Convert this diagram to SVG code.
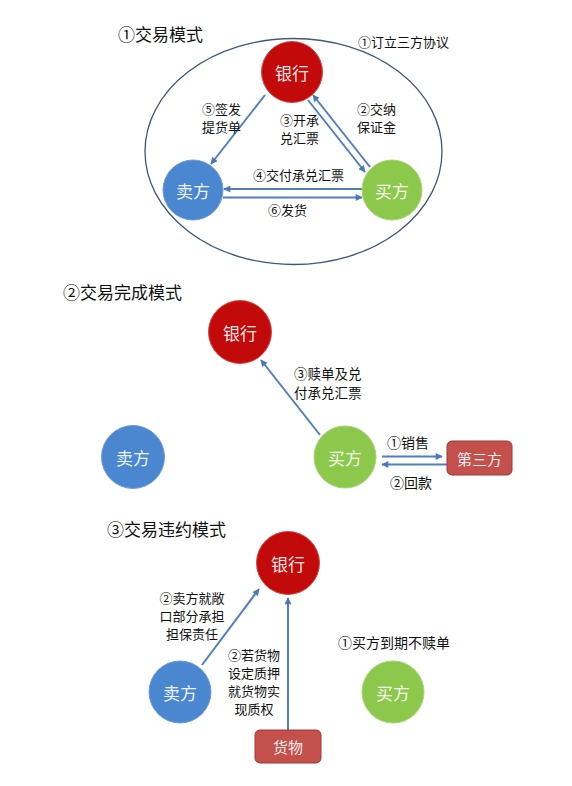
<svg xmlns="http://www.w3.org/2000/svg" width="572" height="786" viewBox="0 0 572 786">
<defs>
<marker id="ah" viewBox="0 0 10 10" refX="9" refY="5" markerWidth="8" markerHeight="7" markerUnits="userSpaceOnUse" orient="auto">
<path d="M0,0 L10,5 L0,10 z" fill="#4a78b8"/>
</marker>
</defs>
<style>
text{font-family:"Noto Sans CJK SC","Noto Sans",sans-serif;fill:#111}
.title{font-size:17px}
.lbl{font-size:13px}
.lbl14{font-size:14px}
.lbl2{font-size:13.5px}
.node{font-size:17px;fill:#fff;fill-opacity:0.92;text-anchor:middle;dominant-baseline:central}
.bank{fill:#c20a0a;stroke:#d94545;stroke-width:1}
.seller{fill:#4b86d1;stroke:#6c9ddc;stroke-width:1}
.buyer{fill:#8cc84b;stroke:#a6d672;stroke-width:1}
.box{fill:#c4504c;stroke:#9a3b38;stroke-width:1}
.arr{stroke:#4f7fbf;stroke-width:2;fill:none;marker-end:url(#ah)}
</style>
<rect width="572" height="786" fill="#fff"/>

<!-- Section 1 -->
<text class="title" x="118" y="41">①交易模式</text>
<ellipse cx="293.5" cy="151.5" rx="148.5" ry="113" fill="none" stroke="#3e5876" stroke-width="1.3"/>
<text class="lbl" x="358" y="47">①订立三方协议</text>

<g id="s1-connectors">
<line class="arr" x1="265" y1="95" x2="211" y2="164"/>
<line class="arr" x1="370" y1="167" x2="313" y2="95"/>
<line class="arr" x1="308" y1="100" x2="365" y2="172"/>
<line class="arr" x1="362" y1="189" x2="224" y2="189"/>
<line class="arr" x1="223" y1="197.5" x2="362" y2="197.5"/>
</g>
<text class="lbl" x="202" y="114">⑤签发<tspan x="202" dy="18">提货单</tspan></text>
<text class="lbl" x="280" y="125">③开承<tspan x="280" dy="18">兑汇票</tspan></text>
<text class="lbl" x="357" y="114">②交纳<tspan x="357" dy="18">保证金</tspan></text>
<text class="lbl" x="253" y="180">④交付承兑汇票</text>
<text class="lbl" x="268" y="215">⑥发货</text>

<g id="s1-bank"><circle class="bank" cx="292" cy="72" r="30.5"/><text class="node" x="292" y="72">银行</text></g>
<g id="s1-seller"><circle class="seller" cx="193" cy="190" r="30"/><text class="node" x="193" y="190">卖方</text></g>
<g id="s1-buyer"><circle class="buyer" cx="392" cy="190" r="30"/><text class="node" x="392" y="190">买方</text></g>

<!-- Section 2 -->
<text class="title" x="63" y="299">②交易完成模式</text>
<g id="s2-connectors">
<line class="arr" x1="320" y1="435" x2="261" y2="360"/>
<line class="arr" x1="382" y1="456.5" x2="442" y2="456.5"/>
<line class="arr" x1="447" y1="464.5" x2="382" y2="464.5"/>
</g>
<text class="lbl2" x="294" y="379">③赎单及兑<tspan x="294" dy="19">付承兑汇票</tspan></text>
<text class="lbl14" x="387" y="448">①销售</text>
<text class="lbl14" x="390" y="488">②回款</text>

<g id="s2-bank"><circle class="bank" cx="240" cy="332" r="31.5"/><text class="node" x="240" y="332">银行</text></g>
<g id="s2-seller"><circle class="seller" cx="133" cy="457" r="31.5"/><text class="node" x="133" y="457">卖方</text></g>
<g id="s2-buyer"><circle class="buyer" cx="345" cy="457" r="31"/><text class="node" x="345" y="457">买方</text></g>
<g id="s2-third"><rect class="box" x="447" y="441" width="65" height="34" rx="5"/><text class="node" style="font-size:15px" x="479.5" y="458">第三方</text></g>

<!-- Section 3 -->
<text class="title" x="107" y="536">③交易违约模式</text>
<g id="s3-connectors">
<line class="arr" x1="202" y1="665" x2="259" y2="589"/>
<line class="arr" x1="288" y1="730" x2="288" y2="598"/>
</g>
<text class="lbl" x="159.5" y="603">②卖方就敞<tspan x="159.5" dy="18">口部分承担</tspan><tspan x="166" dy="18">担保责任</tspan></text>
<text class="lbl" x="228" y="659.5">②若货物<tspan x="228" dy="18">设定质押</tspan><tspan x="228" dy="18">就货物实</tspan><tspan x="234.5" dy="18">现质权</tspan></text>
<text class="lbl14" x="338" y="648">①买方到期不赎单</text>

<g id="s3-bank"><circle class="bank" cx="288" cy="563" r="31.5"/><text class="node" x="288" y="563">银行</text></g>
<g id="s3-seller"><circle class="seller" cx="180" cy="692" r="31"/><text class="node" x="180" y="692">卖方</text></g>
<g id="s3-buyer"><circle class="buyer" cx="393" cy="692" r="31"/><text class="node" x="393" y="692">买方</text></g>
<g id="s3-goods"><rect class="box" x="255" y="730" width="66" height="33" rx="5"/><text class="node" style="font-size:15px" x="288" y="746.5">货物</text></g>
</svg>
